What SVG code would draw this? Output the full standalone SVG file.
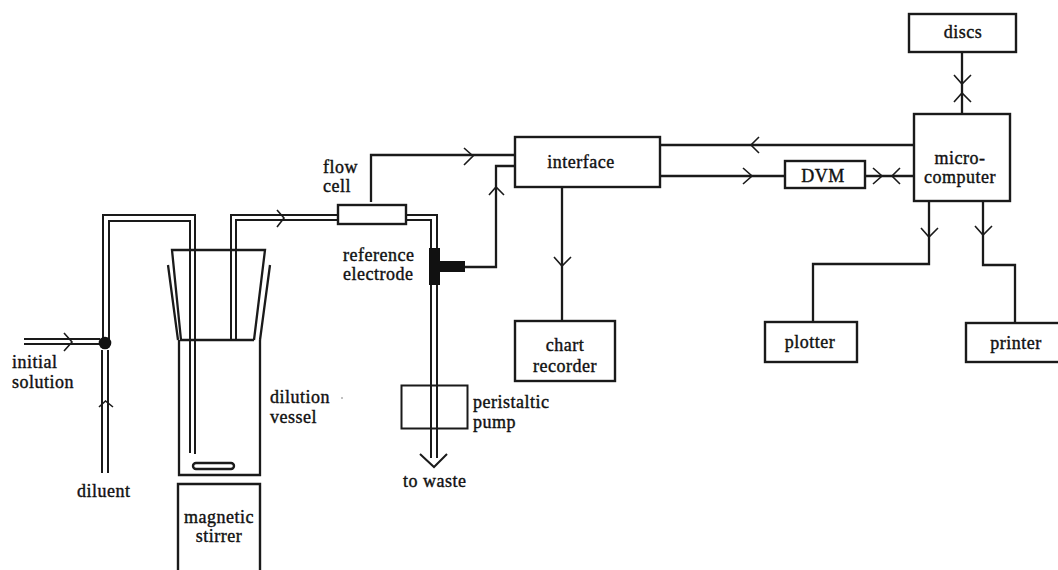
<svg xmlns="http://www.w3.org/2000/svg" width="1058" height="570" viewBox="0 0 1058 570">
<style>
text{font-family:"Liberation Serif",serif;font-size:18px;fill:#111;stroke:#111;stroke-width:.4px;letter-spacing:.5px}
.m{text-anchor:middle}
.box{fill:#fff;stroke:#1a1a1a;stroke-width:2.4}
.w{fill:none;stroke:#1a1a1a;stroke-width:2.3;stroke-linejoin:miter}
.t{fill:none;stroke:#1a1a1a;stroke-width:2}
.a{fill:none;stroke:#1a1a1a;stroke-width:1.6}
</style>
<rect width="1058" height="570" fill="#fff"/>
<g id="connectors">
<path class="t" d="M24 339H100M24 344H100"/>
<path class="t" d="M103 340V215H195V454M109 340V221H190V453"/>
<path class="t" d="M102 350V473M108 350V473"/>
<path class="t" d="M231 340V215H338M236 340V220H338"/>
<path class="t" d="M406 215H437V248M406 220H431V248"/>
<path class="t" d="M431 285V458M437 285V458"/>
<path class="w" d="M371 202V155H515"/>
<path class="w" d="M465 267H496V166H515"/>
<path class="w" d="M660 145H914"/>
<path class="w" d="M660 176H785"/>
<path class="w" d="M865 176H914"/>
<path class="w" d="M962 52V114"/>
<path class="w" d="M562 187V321"/>
<path class="w" d="M929 201V264H813V322"/>
<path class="w" d="M983 201V265H1015V323"/>
<path class="a" d="M64 333L72 342L64 351"/>
<path class="a" d="M99 407L105.500 401L113 407"/>
<path class="a" d="M277 210L284 218L277 227"/>
<path class="a" d="M464 148L473 156L464 165"/>
<path class="a" d="M489 195L496 187L504 195"/>
<path class="a" d="M759 137L751 145L759 153"/>
<path class="a" d="M743 168L752 176L743 184"/>
<path class="a" d="M873 168L882 176L873 184"/>
<path class="a" d="M900 168L892 176L900 184"/>
<path class="a" d="M954 75L962 84L971 75"/>
<path class="a" d="M954 102L962 93L971 102"/>
<path class="a" d="M921 228L929 237L938 228"/>
<path class="a" d="M975 226L983 235L992 226"/>
<path class="a" d="M554 257L562 266L571 257"/>
<path d="M420 454L434 467L447 454" fill="none" stroke="#1a1a1a" stroke-width="2"/>
</g>
<g id="junction"><circle cx="105" cy="343" r="6.300" fill="#111"/></g>
<g id="initial-solution"><text x="12" y="368">initial</text><text x="12" y="388">solution</text></g>
<g id="diluent"><text x="77" y="497">diluent</text></g>
<g id="dilution-vessel">
<path class="w" d="M181 340L172 250H265L254 340M168 265L178 340M270 265L260 340"/>
<path class="w" d="M180 340H254M179 340V475H260V340"/>
<rect x="193" y="463" width="41" height="6" rx="3" fill="none" stroke="#1a1a1a" stroke-width="2.400"/>
<path class="t" d="M190 250V453M195 250V454M231 250V340M236 250V340"/>
<text x="270" y="403">dilution</text><text x="270" y="423">vessel</text>
<circle cx="342" cy="398" r=".7" fill="#555"/>
</g>
<g id="magnetic-stirrer">
<path class="box" d="M178 570V484H260V570"/>
<text class="m" x="219" y="523">magnetic</text><text class="m" x="219" y="542">stirrer</text>
</g>
<g id="flow-cell"><rect class="box" x="338" y="205" width="68" height="19"/><text x="323" y="173">flow</text><text x="323" y="192">cell</text></g>
<g id="reference-electrode">
<path d="M429 248H440V261H465V272H440V285H429Z" fill="#111"/>
<text x="343" y="261">reference</text><text x="343" y="280">electrode</text>
</g>
<g id="peristaltic-pump"><rect x="401.500" y="385.500" width="66" height="43" fill="none" stroke="#1a1a1a" stroke-width="2"/><text x="473" y="408">peristaltic</text><text x="473" y="428">pump</text></g>
<g id="to-waste"><text x="403" y="487">to waste</text></g>
<g id="interface"><rect class="box" x="515" y="137" width="145" height="50"/><text class="m" x="581" y="168">interface</text></g>
<g id="chart-recorder"><rect class="box" x="515" y="321" width="100" height="60"/><text class="m" x="565" y="351">chart</text><text class="m" x="565" y="372">recorder</text></g>
<g id="dvm"><rect class="box" x="785" y="161" width="80" height="27"/><text class="m" x="823" y="182">DVM</text></g>
<g id="microcomputer"><rect class="box" x="914" y="114" width="96" height="87"/><text class="m" x="960" y="164">micro-</text><text class="m" x="960" y="183">computer</text></g>
<g id="discs"><rect class="box" x="909" y="14" width="107" height="38"/><text class="m" x="963" y="38">discs</text></g>
<g id="plotter"><rect class="box" x="765" y="322" width="92" height="40"/><text class="m" x="810" y="348">plotter</text></g>
<g id="printer"><rect class="box" x="966" y="323" width="94" height="39"/><text class="m" x="1016" y="349">printer</text></g>
</svg>
